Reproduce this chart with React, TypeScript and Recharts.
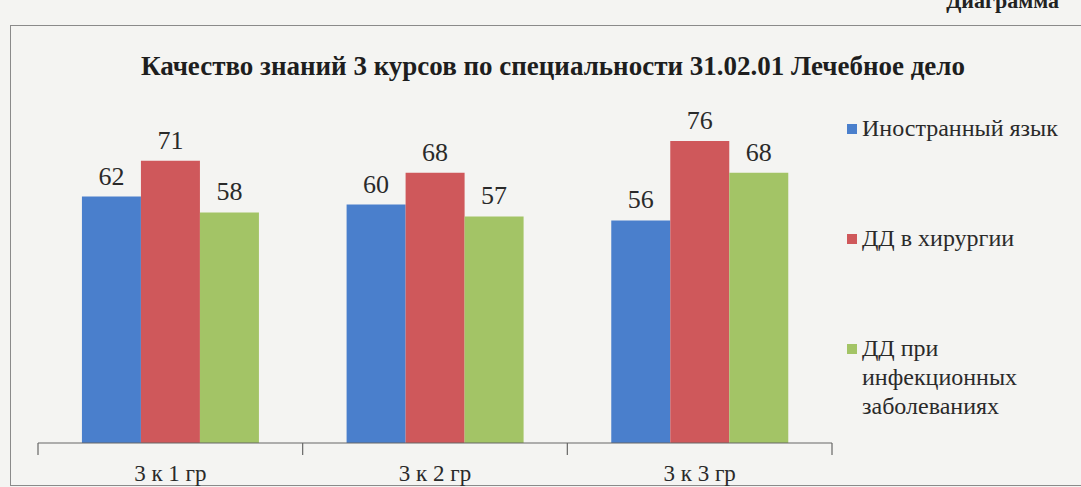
import { BarChart, Bar, XAxis, YAxis, LabelList } from 'recharts';

const groups = ['3 к 1 гр', '3 к 2 гр', '3 к 3 гр'];
const foreignLang = [62, 60, 56];
const surgery = [71, 68, 76];
const infectious = [58, 57, 68];

const seriesNames = ['Иностранный язык', 'ДД в хирургии', 'ДД при инфекционных заболеваниях'];
const seriesColors = ['#4a7fcc', '#cf585b', '#a3c466'];

const data = groups.map((g, i) => ({
  name: g,
  a: foreignLang[i],
  b: surgery[i],
  c: infectious[i],
}));

const SERIF = "'Liberation Serif', 'DejaVu Serif', serif";
const W = 1081;
const H = 487;
const M = { top: 125, right: 249, bottom: 4, left: 38 };
const BAND = (W - M.left - M.right) / groups.length;

// Excel-style axis: label in the middle, tick marks on category borders
const GroupTick = (props: any) => {
  const { x, y, payload, index } = props;
  const half = payload?.offset || BAND / 2;
  return (
    <g>
      <line x1={x - half} y1={y - 8} x2={x - half} y2={y + 4} stroke="#666" strokeWidth={1.2} />
      {index === groups.length - 1 && (
        <line x1={x + half} y1={y - 8} x2={x + half} y2={y + 4} stroke="#666" strokeWidth={1.2} />
      )}
      <text x={x} y={y + 30} textAnchor="middle" fill="#2a2a2a" fontSize={23} fontFamily={SERIF}>
        {payload.value}
      </text>
    </g>
  );
};

export default function App() {
  return (
    <div
      style={{
        position: 'absolute',
        left: 0,
        top: 0,
        width: W,
        height: H,
        overflow: 'hidden',
        background: '#f4f4f2',
        fontFamily: SERIF,
      }}
    >
      <div
        style={{
          position: 'absolute',
          right: 22,
          top: -12,
          fontWeight: 'bold',
          fontSize: 22,
          color: '#222',
        }}
      >
        Диаграмма
      </div>
      {/* frame of the chart */}
      <div
        style={{
          position: 'absolute',
          left: 10,
          top: 25,
          width: 1100,
          height: 459,
          border: '1.5px solid #8a8a8a',
        }}
      />
      <div
        style={{
          position: 'absolute',
          left: 0,
          top: 51,
          width: 1106,
          textAlign: 'center',
          fontWeight: 'bold',
          fontSize: 27,
          color: '#1e1e1e',
        }}
      >
        Качество знаний 3 курсов по специальности 31.02.01 Лечебное дело
      </div>
      <div
        style={{
          position: 'absolute',
          left: 847,
          top: 114,
          width: 234,
          fontSize: 24,
          color: '#2a2a2a',
          lineHeight: '29px',
        }}
      >
        {seriesNames.map((n, i) => (
          <div key={n} style={{ display: 'flex', alignItems: 'flex-start', marginBottom: 81 }}>
            <span
              style={{
                width: 10,
                height: 10,
                background: seriesColors[i],
                marginTop: 10,
                marginRight: 5,
                flexShrink: 0,
              }}
            />
            <span style={{ width: i === 2 ? 160 : 220 }}>{n}</span>
          </div>
        ))}
      </div>
      <div style={{ position: 'absolute', left: 0, top: 0 }}>
        <BarChart width={W} height={H} data={data} margin={M} barCategoryGap="16.6%" barGap={0}>
          <XAxis
            dataKey="name"
            height={40}
            axisLine={{ stroke: '#666', strokeWidth: 1.2 }}
            tickLine={false}
            tick={<GroupTick />}
            interval={0}
          />
          <YAxis hide domain={[0, 80]} />
          {['a', 'b', 'c'].map((k, i) => (
            <Bar key={k} dataKey={k} name={seriesNames[i]} fill={seriesColors[i]} isAnimationActive={false}>
              <LabelList
                dataKey={k}
                position="top"
                offset={12}
                fill="#2a2a2a"
                fontSize={26}
                fontFamily={SERIF}
              />
            </Bar>
          ))}
        </BarChart>
      </div>
    </div>
  );
}
